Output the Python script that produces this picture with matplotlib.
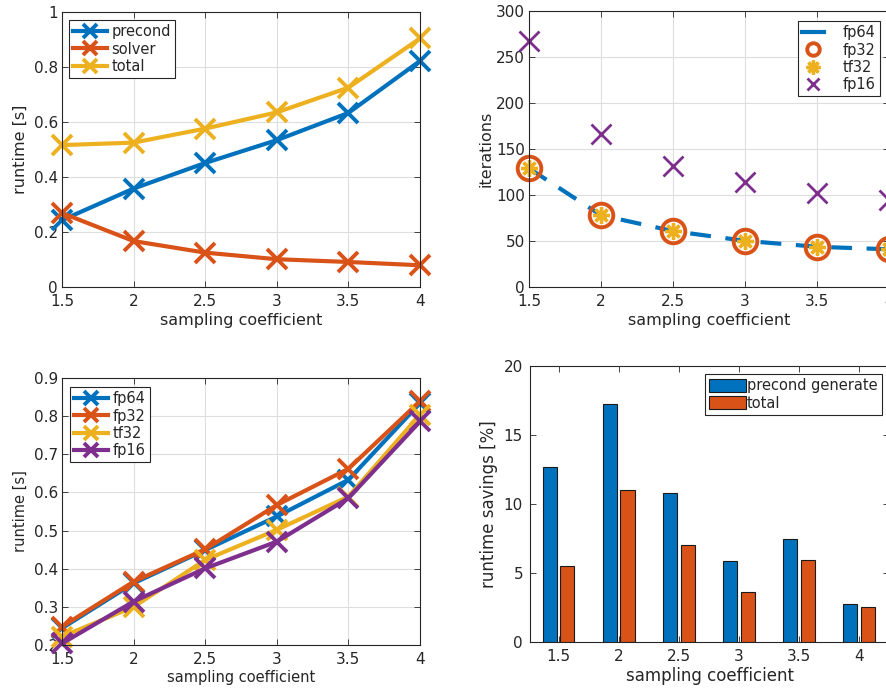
import matplotlib
matplotlib.use('Agg')
import matplotlib.pyplot as plt
from matplotlib.lines import Line2D
import numpy as np

# sampling coefficients
coef = [1.5, 2, 2.5, 3, 3.5, 4]
coef_labels = ['1.5', '2', '2.5', '3', '3.5', '4']

# top left: runtime split
precond = [0.243, 0.358, 0.451, 0.534, 0.633, 0.822]
solver = [0.269, 0.167, 0.125, 0.101, 0.091, 0.079]
total = [0.516, 0.525, 0.576, 0.635, 0.725, 0.904]

# top right: iterations per precision
it_fp64 = [129, 78, 60.8, 50.2, 43.7, 41]
it_fp32 = [129, 78, 60.8, 50.2, 43.7, 41]
it_tf32 = [129, 78, 60.8, 50.2, 43.7, 41]
it_fp16 = [267.6, 166.7, 132, 114.6, 101.9, 94.6]

# bottom left: runtime per precision
rt_fp64 = [0.244, 0.362, 0.449, 0.537, 0.633, 0.834]
rt_fp32 = [0.248, 0.366, 0.451, 0.567, 0.662, 0.839]
rt_tf32 = [0.222, 0.300, 0.423, 0.502, 0.589, 0.804]
rt_fp16 = [0.204, 0.314, 0.401, 0.471, 0.585, 0.786]

# bottom right: savings
sav_precond = [12.67, 17.27, 10.83, 5.86, 7.48, 2.75]
sav_total = [5.5, 10.98, 7.0, 3.6, 5.93, 2.51]

C1 = '#0072BD'
C2 = '#D95319'
C3 = '#EDB120'
C4 = '#7E2F8E'
TXT = '#262626'

plt.rcParams['font.family'] = 'DejaVu Sans'
plt.rcParams['font.size'] = 10
plt.rcParams['text.color'] = TXT
plt.rcParams['axes.labelcolor'] = TXT
plt.rcParams['xtick.color'] = TXT
plt.rcParams['ytick.color'] = TXT
plt.rcParams['axes.edgecolor'] = TXT
plt.rcParams['axes.linewidth'] = 0.8

W, H = 886, 692
fig = plt.figure(figsize=(W / 100, H / 100), dpi=100)


def px_axes(l, r, t, b):
    ax = fig.add_axes([l / W, (H - b) / H, (r - l) / W, (b - t) / H])
    ax.px = (l, r, t, b)
    return ax


def style(ax, grid=True):
    ax.tick_params(direction='in', top=True, right=True, length=4, width=0.6,
                   labelsize=11)
    ax.tick_params(axis='x', pad=5)
    ax.tick_params(axis='y', pad=3)
    if grid:
        ax.grid(True, color='#dedede', linewidth=0.8)
        ax.set_axisbelow(True)


def legend(ax, loc, corner, handles=None, **kw):
    # corner: legend frame corner in figure pixels
    l, r, t, b = ax.px
    anchor = ((corner[0] - l) / (r - l), (b - corner[1]) / (b - t))
    if handles is None:
        handles, _ = ax.get_legend_handles_labels()
    lg = ax.legend(handles=handles, loc=loc, bbox_to_anchor=anchor, borderaxespad=0,
                   fancybox=False, framealpha=1, edgecolor=TXT,
                   fontsize=10.5, borderpad=0.3, labelspacing=0.15, **kw)
    lg.get_frame().set_linewidth(0.8)
    return lg


lkw = dict(linewidth=3, marker='x', markersize=15, markeredgewidth=2.8, clip_on=False)

# top left
ax1 = px_axes(62, 420, 12, 287)
ax1.plot(coef, precond, color=C1, label='precond', **lkw)
ax1.plot(coef, solver, color=C2, label='solver', **lkw)
ax1.plot(coef, total, color=C3, label='total', **lkw)
ax1.set_xlim(1.5, 4)
ax1.set_ylim(0, 1)
ax1.set_xticks(coef)
ax1.set_xticklabels(coef_labels)
ax1.set_yticks([0, 0.2, 0.4, 0.6, 0.8, 1])
ax1.set_yticklabels(['0', '0.2', '0.4', '0.6', '0.8', '1'])
ax1.set_xlabel('sampling coefficient', fontsize=11.5, labelpad=3)
ax1.set_ylabel('runtime [s]', fontsize=11.5, labelpad=4)
style(ax1)
legend(ax1, 'upper left', (69, 20), handlelength=2.3, handletextpad=0.3, markerscale=0.65)

# top right
ax2 = px_axes(529, 889, 11, 287)
ax2.plot(coef, it_fp64, color=C1, linewidth=3, linestyle=(0, (5, 3.5)), clip_on=False)
ax2.plot(coef, it_fp32, linestyle='none', marker='o', markersize=17, markerfacecolor='none',
         markeredgecolor=C2, markeredgewidth=2.8, clip_on=False)
ax2.plot(coef, it_tf32, linestyle='none', marker=(8, 2, 0), markersize=12,
         markeredgecolor=C3, markeredgewidth=2.4, clip_on=False)
ax2.plot(coef, it_fp16, linestyle='none', marker='x', markersize=15,
         markeredgecolor=C4, markeredgewidth=2, clip_on=False)
ax2.set_xlim(1.5, 4)
ax2.set_ylim(0, 300)
ax2.set_xticks(coef)
ax2.set_xticklabels(coef_labels)
ax2.set_yticks(range(0, 301, 50))
ax2.set_xlabel('sampling coefficient', fontsize=11.5, labelpad=3)
ax2.set_ylabel('iterations', fontsize=11.5, labelpad=2)
style(ax2)
proxies = [
    Line2D([], [], color=C1, linewidth=3, linestyle='-', label='fp64'),
    Line2D([], [], linestyle='none', marker='o', markersize=9, markerfacecolor='none',
           markeredgecolor=C2, markeredgewidth=2.8, label='fp32'),
    Line2D([], [], linestyle='none', marker=(8, 2, 0), markersize=10,
           markeredgecolor=C3, markeredgewidth=2.4, label='tf32'),
    Line2D([], [], linestyle='none', marker='x', markersize=9,
           markeredgecolor=C4, markeredgewidth=2, label='fp16'),
]
legend(ax2, 'upper right', (880, 21), handles=proxies, handlelength=1.5, handletextpad=1.3)

# bottom left
ax3 = px_axes(62, 420, 378, 645)
ax3.plot(coef, rt_fp64, color=C1, label='fp64', **lkw)
ax3.plot(coef, rt_fp32, color=C2, label='fp32', **lkw)
ax3.plot(coef, rt_tf32, color=C3, label='tf32', **lkw)
ax3.plot(coef, rt_fp16, color=C4, label='fp16', **lkw)
ax3.set_xlim(1.5, 4)
ax3.set_ylim(0.2, 0.9)
ax3.set_xticks(coef)
ax3.set_xticklabels(coef_labels)
ax3.set_yticks([0.2, 0.3, 0.4, 0.5, 0.6, 0.7, 0.8, 0.9])
ax3.set_xlabel('sampling coefficient', fontsize=10.5, labelpad=2)
ax3.set_ylabel('runtime [s]', fontsize=10.5, labelpad=4)
style(ax3)
legend(ax3, 'upper left', (70, 387), handlelength=2.3, handletextpad=0.3, markerscale=0.65)

# bottom right
ax4 = px_axes(530, 889, 366, 642)
x = np.array(coef)
ax4.bar(x - 0.072, sav_precond, width=0.117, color=C1, edgecolor='#1a1a1a', linewidth=0.8,
        label='precond generate')
ax4.bar(x + 0.072, sav_total, width=0.117, color=C2, edgecolor='#1a1a1a', linewidth=0.8,
        label='total')
ax4.set_xlim(1.26, 4.25)
ax4.set_ylim(0, 20)
ax4.set_xticks(coef)
ax4.set_xticklabels(coef_labels)
ax4.set_yticks([0, 5, 10, 15, 20])
ax4.set_xlabel('sampling coefficient', fontsize=12, labelpad=2)
ax4.set_ylabel('runtime savings [%]', fontsize=12, labelpad=4)
ax4.tick_params(direction='in', top=True, right=True, length=4, width=0.6,
                labelsize=11, pad=5)
legend(ax4, 'upper right', (882, 374), handlelength=2.5, handleheight=1.0, handletextpad=0.1)

fig.savefig('out.png', dpi=100)
